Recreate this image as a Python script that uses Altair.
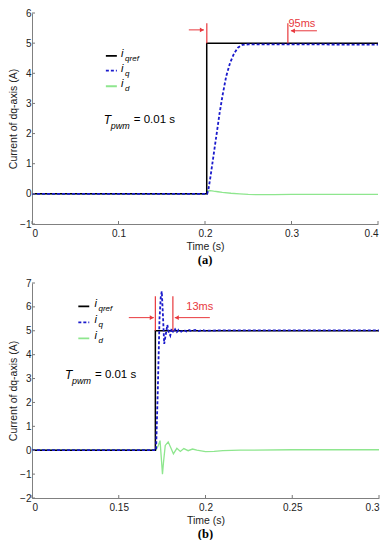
import altair as alt
import pandas as pd

# ---------------- Panel (a) data ----------------
a_ref_t = [0.0, 0.202, 0.202, 0.4]
a_ref_v = [0, 0, 5, 5]
a_iq_t = [0.0, 0.2025, 0.204, 0.2065, 0.209, 0.2115, 0.214, 0.217, 0.2205, 0.2245, 0.229, 0.2335, 0.238, 0.243, 0.25, 0.3, 0.4]
a_iq_v = [0, 0, 0.15, 0.6, 1.1, 1.6, 2.1, 2.7, 3.3, 3.9, 4.35, 4.65, 4.85, 4.94, 4.96, 4.96, 4.95]
a_id_t = [0.0, 0.202, 0.2035, 0.206, 0.21, 0.215, 0.22, 0.23, 0.24, 0.25, 0.26, 0.28, 0.3, 0.35, 0.4]
a_id_v = [0, 0, 0.1, 0.11, 0.09, 0.07, 0.05, 0.02, 0.0, -0.02, -0.025, -0.025, -0.02, -0.02, -0.02]

# ---------------- Panel (b) data ----------------
b_ref_t = [0.1, 0.1711, 0.1711, 0.3]
b_ref_v = [0, 0, 5, 5]
b_iq_t = [0.1, 0.1715, 0.1725, 0.1735, 0.1742, 0.1748, 0.1755, 0.1762, 0.177, 0.178, 0.1788, 0.1797,
          0.1805, 0.1815, 0.1825, 0.1835, 0.1845, 0.186, 0.1875, 0.189, 0.1905, 0.192, 0.194, 0.196,
          0.198, 0.2, 0.21, 0.25, 0.3]
b_iq_v = [0, 0, 2.5, 5.5, 6.4, 6.65, 5.6, 4.45, 4.8, 5.25, 4.95, 4.8,
          5.1, 4.92, 5.06, 4.95, 5.04, 4.96, 5.04, 4.97, 5.03, 4.98, 5.03, 4.99,
          5.03, 5.0, 5.02, 5.02, 5.02]
b_id_t = [0.1, 0.1715, 0.1728, 0.1738, 0.1745, 0.1752, 0.1758, 0.1768, 0.1785, 0.18, 0.1815, 0.1835,
          0.1855, 0.1875, 0.19, 0.1925, 0.195, 0.2, 0.205, 0.21, 0.22, 0.25, 0.28, 0.3]
b_id_v = [0, 0, 0.2, 0.4, -0.3, -1.0, -0.5, 0.2, 0.35, 0.1, -0.15, 0.08,
          -0.05, 0.07, -0.02, 0.05, 0.0, -0.06, -0.05, -0.02, 0.0, 0.02, 0.02, 0.02]

# axis ticks
a_xticks = [0, 0.1, 0.2, 0.3, 0.4]
a_yticks = [-1, 0, 1, 2, 3, 4, 5, 6]
b_xticks = [0.1, 0.15, 0.2, 0.25, 0.3]
b_yticks = [-2, -1, 0, 1, 2, 3, 4, 5, 6, 7]

# annotation values
a_vlines_t = [0.2021, 0.2958]
a_vlines_lo, a_vlines_hi = 5.0, 5.66
a_arrow_l = (0.1813, 0.1987, 5.44)
a_arrow_r = (0.3294, 0.2993, 5.41)
a_label = ("95ms", 0.2965, 5.62)
a_legend = dict(t1=0.0854, t2=0.0981, tt=0.103, ys=[4.58, 4.09, 3.57])
a_tpwm = (0.083, 2.43)

b_vlines_t = [0.1711, 0.1812]
b_vlines_lo, b_vlines_hi = 5.0, 6.45
b_arrow_l = (0.1558, 0.1702, 5.55)
b_arrow_r = (0.2025, 0.1823, 5.55)
b_label = ("13ms", 0.1967, 6.0)
b_legend = dict(t1=0.1267, t2=0.1330, tt=0.1360, ys=[6.02, 5.35, 4.68])
b_tpwm = (0.119, 3.1)

RED = "#e8383d"
SANS = "Liberation Sans"


def df(ts, vs):
    return pd.DataFrame({"t": ts, "v": vs, "o": list(range(len(ts)))})


def panel(W, H, xdom, ydom, xticks, yticks, xlabelexpr, ref, iq, idd,
          vlines_t, vlo, vhi, arr_l, arr_r, label, leg, tpwm, caption):
    xs = alt.Scale(domain=xdom, nice=False, zero=False)
    ys = alt.Scale(domain=ydom, nice=False, zero=False)
    xax = alt.Axis(values=xticks, labelExpr=xlabelexpr, title="Time (s)", grid=False,
                   ticks=False, labelPadding=4, titlePadding=3, labelFontSize=10, titleFontSize=10.5)
    yax = alt.Axis(values=yticks, format="d", title="Current of dq-axis (A)", grid=False,
                   ticks=False, labelPadding=1, titlePadding=1, labelFontSize=10, titleFontSize=10.5)

    def X(f="t"):
        return alt.X(f"{f}:Q", scale=xs, axis=xax)

    def Y(f="v"):
        return alt.Y(f"{f}:Q", scale=ys, axis=yax)

    lid = alt.Chart(df(*idd)).mark_line(color="#8ee68e", strokeWidth=1.3).encode(x=X(), y=Y(), order="o:Q")
    lref = alt.Chart(df(*ref)).mark_line(color="#000000", strokeWidth=1.5).encode(x=X(), y=Y(), order="o:Q")
    liq = alt.Chart(df(*iq)).mark_line(color="#1a1acc", strokeWidth=1.8, strokeDash=[3, 2]).encode(
        x=X(), y=Y(), order="o:Q")

    # inward ticks
    xt = alt.Chart(pd.DataFrame({"t": xticks})).mark_rule(color="#777", strokeWidth=1).encode(
        x=X(), y=alt.value(H), y2=alt.value(H - 3))
    yt = alt.Chart(pd.DataFrame({"v": yticks})).mark_rule(color="#777", strokeWidth=1).encode(
        y=Y(), x=alt.value(0), x2=alt.value(3))

    # red vertical lines
    vdf = pd.DataFrame({"t": vlines_t, "v": [vlo] * len(vlines_t), "v2": [vhi] * len(vlines_t)})
    vl = alt.Chart(vdf).mark_rule(color=RED, strokeWidth=1.2).encode(x=X(), y=Y(), y2="v2:Q")

    # arrows
    adf = pd.DataFrame({"t": [arr_l[0], arr_r[0]], "t2": [arr_l[1], arr_r[1]], "v": [arr_l[2], arr_r[2]]})
    ar = alt.Chart(adf).mark_rule(color=RED, strokeWidth=1).encode(x=X(), x2="t2:Q", y=Y())
    hr = alt.Chart(pd.DataFrame({"t": [arr_l[1]], "v": [arr_l[2]]})).mark_point(
        shape="triangle-right", filled=True, color=RED, size=22, opacity=1, xOffset=-2).encode(x=X(), y=Y())
    hl = alt.Chart(pd.DataFrame({"t": [arr_r[1]], "v": [arr_r[2]]})).mark_point(
        shape="triangle-left", filled=True, color=RED, size=22, opacity=1, xOffset=2).encode(x=X(), y=Y())

    txt = alt.Chart(pd.DataFrame({"t": [label[1]], "v": [label[2]], "s": [label[0]]})).mark_text(
        color=RED, font=SANS, fontSize=11, align="left" if label[0] == "95ms" else "center",
        baseline="middle").encode(x=X(), y=Y(), text="s:N")

    # manual legend
    ldf = pd.DataFrame({"t": [leg["t1"]] * 3, "t2": [leg["t2"]] * 3, "v": leg["ys"],
                        "c": ["ref", "q", "d"]})
    legl = []
    for i, (col, dash, sw) in enumerate([("#000000", [1, 0], 1.8), ("#1a1acc", [3, 2], 1.8),
                                        ("#8ee68e", [1, 0], 1.8)]):
        legl.append(alt.Chart(ldf.iloc[[i]]).mark_rule(color=col, strokeDash=dash, strokeWidth=sw).encode(
            x=X(), x2="t2:Q", y=Y()))
    ti = pd.DataFrame({"t": [leg["tt"]] * 3, "v": leg["ys"], "s": ["i", "i", "i"],
                       "sub": ["qref", "q", "d"]})
    li = alt.Chart(ti).mark_text(font=SANS, fontStyle="italic", fontSize=11, align="left",
                                 baseline="middle", dy=-2).encode(x=X(), y=Y(), text="s:N")
    ls = alt.Chart(ti).mark_text(font=SANS, fontStyle="italic", fontSize=8, align="left",
                                 baseline="middle", dx=4, dy=3).encode(x=X(), y=Y(), text="sub:N")

    tp = pd.DataFrame({"t": [tpwm[0]], "v": [tpwm[1]], "a": ["T"], "b": ["pwm"], "c": ["= 0.01 s"]})
    tpa = alt.Chart(tp).mark_text(font=SANS, fontStyle="italic", fontSize=12, align="left",
                                  baseline="middle", dy=-1).encode(x=X(), y=Y(), text="a:N")
    tpb = alt.Chart(tp).mark_text(font=SANS, fontStyle="italic", fontSize=9, align="left",
                                  baseline="middle", dx=7, dy=5).encode(x=X(), y=Y(), text="b:N")
    tpc = alt.Chart(tp).mark_text(font=SANS, fontSize=11.5, align="left",
                                  baseline="middle", dx=30, dy=-1).encode(x=X(), y=Y(), text="c:N")

    return alt.layer(lid, lref, liq, xt, yt, vl, ar, hr, hl, txt, *legl, li, ls, tpa, tpb, tpc).properties(
        width=W, height=H,
        title=alt.TitleParams(caption, orient="bottom", font="Liberation Serif", fontWeight="bold",
                              fontSize=12.5, color="#000", offset=2))


pa = panel(346, 211, [0, 0.4], [-1, 6], a_xticks, a_yticks, "format(datum.value, '~g')",
           (a_ref_t, a_ref_v), (a_iq_t, a_iq_v), (a_id_t, a_id_v),
           a_vlines_t, a_vlines_lo, a_vlines_hi, a_arrow_l, a_arrow_r, a_label, a_legend, a_tpwm, "(a)")
pb = panel(347, 215, [0.1, 0.3], [-2, 7], b_xticks, b_yticks,
           "datum.value < 0.11 ? '0' : format(datum.value, '~g')",
           (b_ref_t, b_ref_v), (b_iq_t, b_iq_v), (b_id_t, b_id_v),
           b_vlines_t, b_vlines_lo, b_vlines_hi, b_arrow_l, b_arrow_r, b_label, b_legend, b_tpwm, "(b)")

chart = alt.vconcat(pa, pb, spacing=12).configure_view(stroke=None).configure_axis(
    domainColor="#808080", labelColor="#222", titleColor="#222", labelFont=SANS, titleFont=SANS,
    titleFontWeight="normal").properties(padding=0)

chart.save("out.html", embed_options={"renderer": "svg", "actions": False})
